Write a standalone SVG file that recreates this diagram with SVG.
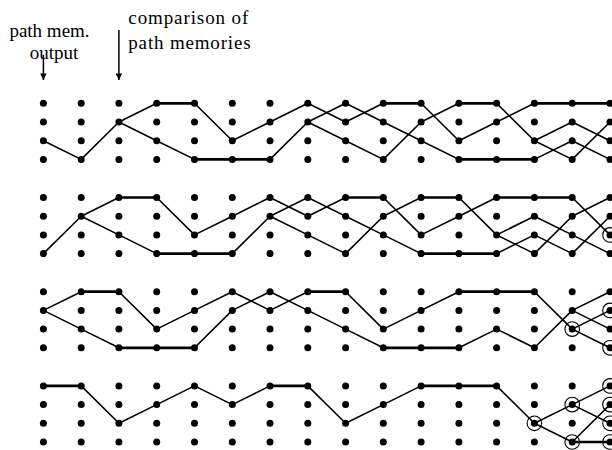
<svg xmlns="http://www.w3.org/2000/svg" xmlns:xlink="http://www.w3.org/1999/xlink" width="612" height="450" viewBox="0 0 612 450">
<style>
.lbl{font-family:"Liberation Serif","Times New Roman",serif;font-size:19px;fill:#000}
.d{stroke:#000;stroke-width:1.6;fill:none;stroke-linejoin:round}
.h{stroke:#000;stroke-width:2.7;fill:none}
.ring{stroke:#000;stroke-width:1.1;fill:none}
.dot{fill:#000}
.arr{stroke:#000;stroke-width:1.5;fill:none}
</style>
<defs>
<marker id="ah" viewBox="0 0 10 10" refX="10" refY="5" markerWidth="9" markerHeight="6.5" markerUnits="userSpaceOnUse" orient="auto">
<path d="M0,0 L10,5 L0,10 Z" fill="#000"/>
</marker>
<circle id="dt" r="3.5" class="dot"/>
<circle id="rg" r="7.3" class="ring"/>
</defs>
<rect width="612" height="450" fill="#fff"/>

<g id="labels">
<text class="lbl" x="49.5" y="36.5" text-anchor="middle">path mem.</text>
<text class="lbl" x="54" y="59" text-anchor="middle">output</text>
<text class="lbl" x="128.3" y="24" textLength="120" lengthAdjust="spacing">comparison of</text>
<text class="lbl" x="128.3" y="48.5" textLength="122.3" lengthAdjust="spacing">path memories</text>
</g>

<g id="arrows">
<line class="arr" x1="43.4" y1="55" x2="43.4" y2="80" marker-end="url(#ah)"/>
<line class="arr" x1="118.9" y1="30" x2="118.9" y2="80" marker-end="url(#ah)"/>
</g>

<g id="connectors">
<g id="conn-s1" transform="translate(0,103.3)">
<polyline class="d" points="43.4,37.4 81.2,56.1 118.9,18.7 156.7,0"/>
<polyline class="d" points="194.5,0 232.3,37.4 270,18.7 307.8,0 345.6,18.7 383.3,0"/>
<polyline class="d" points="118.9,18.7 156.7,37.4 194.5,56.1"/>
<polyline class="d" points="270,56.1 307.8,18.7 345.6,0 383.3,18.7 421.1,37.4 458.9,56.1"/>
<polyline class="d" points="307.8,18.7 345.6,37.4 383.3,56.1 421.1,18.7 458.9,0"/>
<polyline class="d" points="421.1,0 458.9,37.4 496.6,18.7 534.4,0"/>
<polyline class="d" points="496.6,0 534.4,37.4 572.2,18.7 610,37.4"/>
<polyline class="d" points="534.4,37.4 572.2,56.1 610,18.7"/>
<polyline class="d" points="534.4,56.1 572.2,37.4 610,56.1"/>
<line class="h" x1="156.7" y1="0" x2="194.5" y2="0"/>
<line class="h" x1="383.3" y1="0" x2="421.1" y2="0"/>
<line class="h" x1="194.5" y1="56.1" x2="270" y2="56.1"/>
<line class="h" x1="458.9" y1="0" x2="496.6" y2="0"/>
<line class="h" x1="534.4" y1="0" x2="612" y2="0"/>
<line class="h" x1="458.9" y1="56.1" x2="534.4" y2="56.1"/>
</g>
<g id="conn-s2" transform="translate(0,197.5)">
<polyline class="d" points="43.4,56.1 81.2,18.7 118.9,0"/>
<polyline class="d" points="156.7,0 194.5,37.4 232.3,18.7 270,0 307.8,18.7 345.6,0"/>
<polyline class="d" points="81.2,18.7 118.9,37.4 156.7,56.1"/>
<polyline class="d" points="232.3,56.1 270,18.7 307.8,0 345.6,18.7 383.3,37.4 421.1,56.1"/>
<polyline class="d" points="270,18.7 307.8,37.4 345.6,56.1 383.3,18.7 421.1,0"/>
<polyline class="d" points="383.3,0 421.1,37.4 458.9,18.7 496.6,0"/>
<polyline class="d" points="458.9,0 496.6,37.4 534.4,18.7 572.2,37.4 610,56.1"/>
<polyline class="d" points="496.6,37.4 534.4,56.1 572.2,18.7 610,0"/>
<polyline class="d" points="496.6,56.1 534.4,37.4 572.2,56.1 610,18.7"/>
<polyline class="d" points="572.2,0 610,37.4"/>
<line class="h" x1="118.9" y1="0" x2="156.7" y2="0"/>
<line class="h" x1="345.6" y1="0" x2="383.3" y2="0"/>
<line class="h" x1="156.7" y1="56.1" x2="232.3" y2="56.1"/>
<line class="h" x1="421.1" y1="0" x2="458.9" y2="0"/>
<line class="h" x1="496.6" y1="0" x2="572.2" y2="0"/>
<line class="h" x1="421.1" y1="56.1" x2="496.6" y2="56.1"/>
</g>
<g id="conn-s3" transform="translate(0,291.7)">
<polyline class="d" points="43.4,18.7 81.2,0"/>
<polyline class="d" points="118.9,0 156.7,37.4 194.5,18.7 232.3,0 270,18.7 307.8,0"/>
<polyline class="d" points="43.4,18.7 81.2,37.4 118.9,56.1"/>
<polyline class="d" points="194.5,56.1 232.3,18.7 270,0 307.8,18.7 345.6,37.4 383.3,56.1"/>
<polyline class="d" points="345.6,0 383.3,37.4 421.1,18.7 458.9,0"/>
<polyline class="d" points="534.4,0 572.2,37.4 610,18.7"/>
<polyline class="d" points="458.9,56.1 496.6,37.4 534.4,56.1 572.2,18.7 610,0"/>
<polyline class="d" points="572.2,18.7 610,37.4"/>
<polyline class="d" points="572.2,37.4 610,56.1"/>
<line class="h" x1="81.2" y1="0" x2="118.9" y2="0"/>
<line class="h" x1="307.8" y1="0" x2="345.6" y2="0"/>
<line class="h" x1="118.9" y1="56.1" x2="194.5" y2="56.1"/>
<line class="h" x1="383.3" y1="56.1" x2="458.9" y2="56.1"/>
<line class="h" x1="458.9" y1="0" x2="534.4" y2="0"/>
</g>
<g id="conn-s4" transform="translate(0,385.9)">
<polyline class="d" points="81.2,0 118.9,37.4 156.7,18.7 194.5,0 232.3,18.7 270,0"/>
<polyline class="d" points="307.8,0 345.6,37.4 383.3,18.7 421.1,0"/>
<polyline class="d" points="496.6,0 534.4,37.4 572.2,18.7 610,0"/>
<polyline class="d" points="534.4,37.4 572.2,56.1"/>
<polyline class="d" points="572.2,18.7 610,37.4"/>
<polyline class="d" points="572.2,56.1 610,18.7"/>
<line class="h" x1="43.4" y1="0" x2="81.2" y2="0"/>
<line class="h" x1="270" y1="0" x2="307.8" y2="0"/>
<line class="h" x1="421.1" y1="0" x2="496.6" y2="0"/>
<line class="h" x1="572.2" y1="56.1" x2="612" y2="56.1"/>
</g>
</g>

<g id="rings">
<use xlink:href="#rg" href="#rg" x="610" y="234.9"/>
<use xlink:href="#rg" href="#rg" x="572.2" y="329.1"/>
<use xlink:href="#rg" href="#rg" x="610" y="310.4"/>
<use xlink:href="#rg" href="#rg" x="610" y="347.8"/>
<use xlink:href="#rg" href="#rg" x="534.4" y="423.3"/>
<use xlink:href="#rg" href="#rg" x="572.2" y="404.6"/>
<use xlink:href="#rg" href="#rg" x="572.2" y="442"/>
<use xlink:href="#rg" href="#rg" x="610" y="385.9"/>
<use xlink:href="#rg" href="#rg" x="610" y="404.6"/>
<use xlink:href="#rg" href="#rg" x="610" y="423.3"/>
<use xlink:href="#rg" href="#rg" x="610" y="442"/>
</g>

<g id="nodes">
<g id="s1" transform="translate(0,103.3)">
<g id="s1c0"><use href="#dt" x="43.4" y="0"/><use href="#dt" x="43.4" y="18.7"/><use href="#dt" x="43.4" y="37.4"/><use href="#dt" x="43.4" y="56.1"/></g>
<g id="s1c1"><use href="#dt" x="81.2" y="0"/><use href="#dt" x="81.2" y="18.7"/><use href="#dt" x="81.2" y="37.4"/><use href="#dt" x="81.2" y="56.1"/></g>
<g id="s1c2"><use href="#dt" x="118.9" y="0"/><use href="#dt" x="118.9" y="18.7"/><use href="#dt" x="118.9" y="37.4"/><use href="#dt" x="118.9" y="56.1"/></g>
<g id="s1c3"><use href="#dt" x="156.7" y="0"/><use href="#dt" x="156.7" y="18.7"/><use href="#dt" x="156.7" y="37.4"/><use href="#dt" x="156.7" y="56.1"/></g>
<g id="s1c4"><use href="#dt" x="194.5" y="0"/><use href="#dt" x="194.5" y="18.7"/><use href="#dt" x="194.5" y="37.4"/><use href="#dt" x="194.5" y="56.1"/></g>
<g id="s1c5"><use href="#dt" x="232.3" y="0"/><use href="#dt" x="232.3" y="18.7"/><use href="#dt" x="232.3" y="37.4"/><use href="#dt" x="232.3" y="56.1"/></g>
<g id="s1c6"><use href="#dt" x="270" y="0"/><use href="#dt" x="270" y="18.7"/><use href="#dt" x="270" y="37.4"/><use href="#dt" x="270" y="56.1"/></g>
<g id="s1c7"><use href="#dt" x="307.8" y="0"/><use href="#dt" x="307.8" y="18.7"/><use href="#dt" x="307.8" y="37.4"/><use href="#dt" x="307.8" y="56.1"/></g>
<g id="s1c8"><use href="#dt" x="345.6" y="0"/><use href="#dt" x="345.6" y="18.7"/><use href="#dt" x="345.6" y="37.4"/><use href="#dt" x="345.6" y="56.1"/></g>
<g id="s1c9"><use href="#dt" x="383.3" y="0"/><use href="#dt" x="383.3" y="18.7"/><use href="#dt" x="383.3" y="37.4"/><use href="#dt" x="383.3" y="56.1"/></g>
<g id="s1c10"><use href="#dt" x="421.1" y="0"/><use href="#dt" x="421.1" y="18.7"/><use href="#dt" x="421.1" y="37.4"/><use href="#dt" x="421.1" y="56.1"/></g>
<g id="s1c11"><use href="#dt" x="458.9" y="0"/><use href="#dt" x="458.9" y="18.7"/><use href="#dt" x="458.9" y="37.4"/><use href="#dt" x="458.9" y="56.1"/></g>
<g id="s1c12"><use href="#dt" x="496.6" y="0"/><use href="#dt" x="496.6" y="18.7"/><use href="#dt" x="496.6" y="37.4"/><use href="#dt" x="496.6" y="56.1"/></g>
<g id="s1c13"><use href="#dt" x="534.4" y="0"/><use href="#dt" x="534.4" y="18.7"/><use href="#dt" x="534.4" y="37.4"/><use href="#dt" x="534.4" y="56.1"/></g>
<g id="s1c14"><use href="#dt" x="572.2" y="0"/><use href="#dt" x="572.2" y="18.7"/><use href="#dt" x="572.2" y="37.4"/><use href="#dt" x="572.2" y="56.1"/></g>
<g id="s1c15"><use href="#dt" x="610" y="0"/><use href="#dt" x="610" y="18.7"/><use href="#dt" x="610" y="37.4"/><use href="#dt" x="610" y="56.1"/></g>
</g>
<g id="s2" transform="translate(0,197.5)">
<g id="s2c0"><use href="#dt" x="43.4" y="0"/><use href="#dt" x="43.4" y="18.7"/><use href="#dt" x="43.4" y="37.4"/><use href="#dt" x="43.4" y="56.1"/></g>
<g id="s2c1"><use href="#dt" x="81.2" y="0"/><use href="#dt" x="81.2" y="18.7"/><use href="#dt" x="81.2" y="37.4"/><use href="#dt" x="81.2" y="56.1"/></g>
<g id="s2c2"><use href="#dt" x="118.9" y="0"/><use href="#dt" x="118.9" y="18.7"/><use href="#dt" x="118.9" y="37.4"/><use href="#dt" x="118.9" y="56.1"/></g>
<g id="s2c3"><use href="#dt" x="156.7" y="0"/><use href="#dt" x="156.7" y="18.7"/><use href="#dt" x="156.7" y="37.4"/><use href="#dt" x="156.7" y="56.1"/></g>
<g id="s2c4"><use href="#dt" x="194.5" y="0"/><use href="#dt" x="194.5" y="18.7"/><use href="#dt" x="194.5" y="37.4"/><use href="#dt" x="194.5" y="56.1"/></g>
<g id="s2c5"><use href="#dt" x="232.3" y="0"/><use href="#dt" x="232.3" y="18.7"/><use href="#dt" x="232.3" y="37.4"/><use href="#dt" x="232.3" y="56.1"/></g>
<g id="s2c6"><use href="#dt" x="270" y="0"/><use href="#dt" x="270" y="18.7"/><use href="#dt" x="270" y="37.4"/><use href="#dt" x="270" y="56.1"/></g>
<g id="s2c7"><use href="#dt" x="307.8" y="0"/><use href="#dt" x="307.8" y="18.7"/><use href="#dt" x="307.8" y="37.4"/><use href="#dt" x="307.8" y="56.1"/></g>
<g id="s2c8"><use href="#dt" x="345.6" y="0"/><use href="#dt" x="345.6" y="18.7"/><use href="#dt" x="345.6" y="37.4"/><use href="#dt" x="345.6" y="56.1"/></g>
<g id="s2c9"><use href="#dt" x="383.3" y="0"/><use href="#dt" x="383.3" y="18.7"/><use href="#dt" x="383.3" y="37.4"/><use href="#dt" x="383.3" y="56.1"/></g>
<g id="s2c10"><use href="#dt" x="421.1" y="0"/><use href="#dt" x="421.1" y="18.7"/><use href="#dt" x="421.1" y="37.4"/><use href="#dt" x="421.1" y="56.1"/></g>
<g id="s2c11"><use href="#dt" x="458.9" y="0"/><use href="#dt" x="458.9" y="18.7"/><use href="#dt" x="458.9" y="37.4"/><use href="#dt" x="458.9" y="56.1"/></g>
<g id="s2c12"><use href="#dt" x="496.6" y="0"/><use href="#dt" x="496.6" y="18.7"/><use href="#dt" x="496.6" y="37.4"/><use href="#dt" x="496.6" y="56.1"/></g>
<g id="s2c13"><use href="#dt" x="534.4" y="0"/><use href="#dt" x="534.4" y="18.7"/><use href="#dt" x="534.4" y="37.4"/><use href="#dt" x="534.4" y="56.1"/></g>
<g id="s2c14"><use href="#dt" x="572.2" y="0"/><use href="#dt" x="572.2" y="18.7"/><use href="#dt" x="572.2" y="37.4"/><use href="#dt" x="572.2" y="56.1"/></g>
<g id="s2c15"><use href="#dt" x="610" y="0"/><use href="#dt" x="610" y="18.7"/><use href="#dt" x="610" y="37.4"/><use href="#dt" x="610" y="56.1"/></g>
</g>
<g id="s3" transform="translate(0,291.7)">
<g id="s3c0"><use href="#dt" x="43.4" y="0"/><use href="#dt" x="43.4" y="18.7"/><use href="#dt" x="43.4" y="37.4"/><use href="#dt" x="43.4" y="56.1"/></g>
<g id="s3c1"><use href="#dt" x="81.2" y="0"/><use href="#dt" x="81.2" y="18.7"/><use href="#dt" x="81.2" y="37.4"/><use href="#dt" x="81.2" y="56.1"/></g>
<g id="s3c2"><use href="#dt" x="118.9" y="0"/><use href="#dt" x="118.9" y="18.7"/><use href="#dt" x="118.9" y="37.4"/><use href="#dt" x="118.9" y="56.1"/></g>
<g id="s3c3"><use href="#dt" x="156.7" y="0"/><use href="#dt" x="156.7" y="18.7"/><use href="#dt" x="156.7" y="37.4"/><use href="#dt" x="156.7" y="56.1"/></g>
<g id="s3c4"><use href="#dt" x="194.5" y="0"/><use href="#dt" x="194.5" y="18.7"/><use href="#dt" x="194.5" y="37.4"/><use href="#dt" x="194.5" y="56.1"/></g>
<g id="s3c5"><use href="#dt" x="232.3" y="0"/><use href="#dt" x="232.3" y="18.7"/><use href="#dt" x="232.3" y="37.4"/><use href="#dt" x="232.3" y="56.1"/></g>
<g id="s3c6"><use href="#dt" x="270" y="0"/><use href="#dt" x="270" y="18.7"/><use href="#dt" x="270" y="37.4"/><use href="#dt" x="270" y="56.1"/></g>
<g id="s3c7"><use href="#dt" x="307.8" y="0"/><use href="#dt" x="307.8" y="18.7"/><use href="#dt" x="307.8" y="37.4"/><use href="#dt" x="307.8" y="56.1"/></g>
<g id="s3c8"><use href="#dt" x="345.6" y="0"/><use href="#dt" x="345.6" y="18.7"/><use href="#dt" x="345.6" y="37.4"/><use href="#dt" x="345.6" y="56.1"/></g>
<g id="s3c9"><use href="#dt" x="383.3" y="0"/><use href="#dt" x="383.3" y="18.7"/><use href="#dt" x="383.3" y="37.4"/><use href="#dt" x="383.3" y="56.1"/></g>
<g id="s3c10"><use href="#dt" x="421.1" y="0"/><use href="#dt" x="421.1" y="18.7"/><use href="#dt" x="421.1" y="37.4"/><use href="#dt" x="421.1" y="56.1"/></g>
<g id="s3c11"><use href="#dt" x="458.9" y="0"/><use href="#dt" x="458.9" y="18.7"/><use href="#dt" x="458.9" y="37.4"/><use href="#dt" x="458.9" y="56.1"/></g>
<g id="s3c12"><use href="#dt" x="496.6" y="0"/><use href="#dt" x="496.6" y="18.7"/><use href="#dt" x="496.6" y="37.4"/><use href="#dt" x="496.6" y="56.1"/></g>
<g id="s3c13"><use href="#dt" x="534.4" y="0"/><use href="#dt" x="534.4" y="18.7"/><use href="#dt" x="534.4" y="37.4"/><use href="#dt" x="534.4" y="56.1"/></g>
<g id="s3c14"><use href="#dt" x="572.2" y="0"/><use href="#dt" x="572.2" y="18.7"/><use href="#dt" x="572.2" y="37.4"/><use href="#dt" x="572.2" y="56.1"/></g>
<g id="s3c15"><use href="#dt" x="610" y="0"/><use href="#dt" x="610" y="18.7"/><use href="#dt" x="610" y="37.4"/><use href="#dt" x="610" y="56.1"/></g>
</g>
<g id="s4" transform="translate(0,385.9)">
<g id="s4c0"><use href="#dt" x="43.4" y="0"/><use href="#dt" x="43.4" y="18.7"/><use href="#dt" x="43.4" y="37.4"/><use href="#dt" x="43.4" y="56.1"/></g>
<g id="s4c1"><use href="#dt" x="81.2" y="0"/><use href="#dt" x="81.2" y="18.7"/><use href="#dt" x="81.2" y="37.4"/><use href="#dt" x="81.2" y="56.1"/></g>
<g id="s4c2"><use href="#dt" x="118.9" y="0"/><use href="#dt" x="118.9" y="18.7"/><use href="#dt" x="118.9" y="37.4"/><use href="#dt" x="118.9" y="56.1"/></g>
<g id="s4c3"><use href="#dt" x="156.7" y="0"/><use href="#dt" x="156.7" y="18.7"/><use href="#dt" x="156.7" y="37.4"/><use href="#dt" x="156.7" y="56.1"/></g>
<g id="s4c4"><use href="#dt" x="194.5" y="0"/><use href="#dt" x="194.5" y="18.7"/><use href="#dt" x="194.5" y="37.4"/><use href="#dt" x="194.5" y="56.1"/></g>
<g id="s4c5"><use href="#dt" x="232.3" y="0"/><use href="#dt" x="232.3" y="18.7"/><use href="#dt" x="232.3" y="37.4"/><use href="#dt" x="232.3" y="56.1"/></g>
<g id="s4c6"><use href="#dt" x="270" y="0"/><use href="#dt" x="270" y="18.7"/><use href="#dt" x="270" y="37.4"/><use href="#dt" x="270" y="56.1"/></g>
<g id="s4c7"><use href="#dt" x="307.8" y="0"/><use href="#dt" x="307.8" y="18.7"/><use href="#dt" x="307.8" y="37.4"/><use href="#dt" x="307.8" y="56.1"/></g>
<g id="s4c8"><use href="#dt" x="345.6" y="0"/><use href="#dt" x="345.6" y="18.7"/><use href="#dt" x="345.6" y="37.4"/><use href="#dt" x="345.6" y="56.1"/></g>
<g id="s4c9"><use href="#dt" x="383.3" y="0"/><use href="#dt" x="383.3" y="18.7"/><use href="#dt" x="383.3" y="37.4"/><use href="#dt" x="383.3" y="56.1"/></g>
<g id="s4c10"><use href="#dt" x="421.1" y="0"/><use href="#dt" x="421.1" y="18.7"/><use href="#dt" x="421.1" y="37.4"/><use href="#dt" x="421.1" y="56.1"/></g>
<g id="s4c11"><use href="#dt" x="458.9" y="0"/><use href="#dt" x="458.9" y="18.7"/><use href="#dt" x="458.9" y="37.4"/><use href="#dt" x="458.9" y="56.1"/></g>
<g id="s4c12"><use href="#dt" x="496.6" y="0"/><use href="#dt" x="496.6" y="18.7"/><use href="#dt" x="496.6" y="37.4"/><use href="#dt" x="496.6" y="56.1"/></g>
<g id="s4c13"><use href="#dt" x="534.4" y="0"/><use href="#dt" x="534.4" y="18.7"/><use href="#dt" x="534.4" y="37.4"/><use href="#dt" x="534.4" y="56.1"/></g>
<g id="s4c14"><use href="#dt" x="572.2" y="0"/><use href="#dt" x="572.2" y="18.7"/><use href="#dt" x="572.2" y="37.4"/><use href="#dt" x="572.2" y="56.1"/></g>
<g id="s4c15"><use href="#dt" x="610" y="0"/><use href="#dt" x="610" y="18.7"/><use href="#dt" x="610" y="37.4"/><use href="#dt" x="610" y="56.1"/></g>
</g>
</g>
</svg>
